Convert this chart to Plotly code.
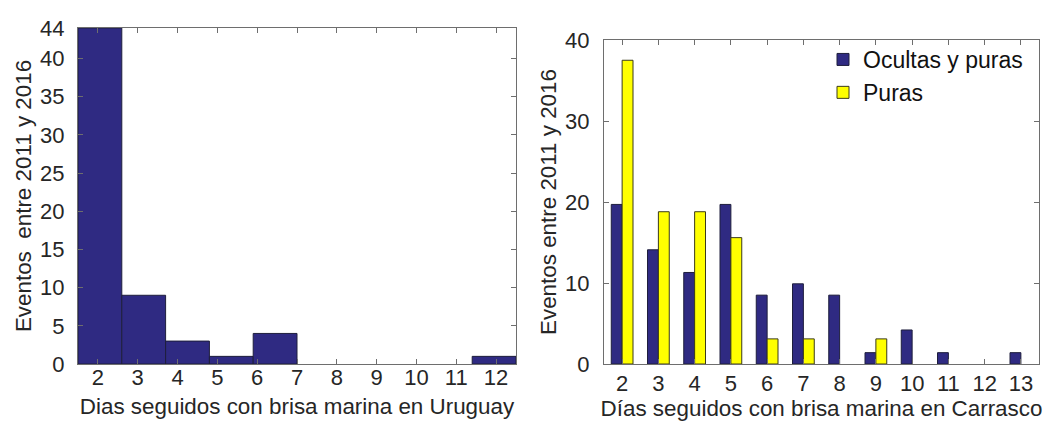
import plotly.graph_objects as go
from plotly.subplots import make_subplots

# ---- Left: histogram of consecutive sea-breeze days in Uruguay ----
left_bin_start = 1.5
left_bin_width = 1.1
left_counts = [44, 9, 3, 1, 4, 0, 0, 0, 0, 1]
left_xticks = [2, 3, 4, 5, 6, 7, 8, 9, 10, 11, 12]
left_yticks = [0, 5, 10, 15, 20, 25, 30, 35, 40, 44]

# ---- Right: Carrasco, grouped bars ----
right_days = [2, 3, 4, 5, 6, 7, 8, 9, 10, 11, 12, 13]
ocultas_y_puras = [19.7, 14.1, 11.3, 19.7, 8.5, 9.9, 8.5, 1.4, 4.2, 1.4, 0, 1.4]
puras = [37.5, 18.8, 18.8, 15.6, 3.1, 3.1, 0, 3.1, 0, 0, 0, 0]
right_yticks = [0, 10, 20, 30, 40]

left_centers = [left_bin_start + left_bin_width * (i + 0.5) for i in range(len(left_counts))]

NAVY = "#2f2a82"
YELLOW = "#ffff00"
EDGE = "#1e1e3c"
TXT = "#262626"
AX = "#6e6e6e"
FONT = "Liberation Sans, Arial, sans-serif"
TICK_SIZE = 22
TITLE_SIZE = 22.4


def edge_widths(vals):
    return [1 if v > 0 else 0 for v in vals]


fig = make_subplots(rows=1, cols=2)

fig.add_trace(go.Bar(x=left_centers, y=left_counts, width=[left_bin_width] * len(left_counts),
                     marker=dict(color=NAVY, line=dict(color=EDGE, width=edge_widths(left_counts))),
                     showlegend=False), row=1, col=1)

fig.add_trace(go.Bar(x=right_days, y=ocultas_y_puras, name="Ocultas y puras",
                     marker=dict(color=NAVY, line=dict(color=EDGE, width=edge_widths(ocultas_y_puras)))),
              row=1, col=2)
fig.add_trace(go.Bar(x=right_days, y=puras, name="Puras",
                     marker=dict(color=YELLOW, line=dict(color="#3a3a1a", width=edge_widths(puras)))),
              row=1, col=2)

W, H = 1057, 428
def px_x(p):
    return p / W
def px_y(p):
    return 1 - p / H

axis_common = dict(showline=True, linecolor=AX, linewidth=1, mirror="allticks",
                   ticks="inside", ticklen=5, tickcolor=AX, showgrid=False, zeroline=False,
                   tickfont=dict(family=FONT, size=TICK_SIZE, color=TXT), automargin=False)
title_font = dict(family=FONT, size=TITLE_SIZE, color=TXT)

fig.update_layout(
    width=W, height=H,
    margin=dict(l=0, r=0, t=0, b=0),
    paper_bgcolor="white", plot_bgcolor="white",
    barmode="group", bargap=0.4, bargroupgap=0,
    font=dict(family=FONT, color=TXT),
    xaxis=dict(domain=[px_x(70), px_x(508)], range=[1.5, 12.5], tickvals=left_xticks,
               ticklabelstandoff=-6,
               title=dict(text="Dias seguidos con brisa marina en Uruguay", standoff=8,
                          font=title_font), **axis_common),
    yaxis=dict(domain=[px_y(356), px_y(20)], range=[0, 44], tickvals=left_yticks,
               ticklabelstandoff=8,
               title=dict(text="Eventos  entre 2011 y 2016", standoff=2,
                          font=title_font), **axis_common),
    xaxis2=dict(domain=[px_x(596), px_x(1031)], range=[1.5, 13.5], tickvals=right_days,
                ticklabelstandoff=0,
                title=dict(text="Días seguidos con brisa marina en Carrasco", standoff=2,
                           font=title_font), **axis_common),
    yaxis2=dict(domain=[px_y(356), px_y(32)], range=[0, 40], tickvals=right_yticks,
                ticklabelstandoff=9,
                title=dict(text="Eventos entre 2011 y 2016", standoff=2,
                           font=title_font), **axis_common),
    legend=dict(x=px_x(815), y=px_y(30), xanchor="left", yanchor="top",
                bgcolor="rgba(255,255,255,0)", borderwidth=0,
                font=dict(family=FONT, size=23, color="#111"),
                tracegroupgap=0, itemwidth=30),
)

fig.write_html("out.html")
